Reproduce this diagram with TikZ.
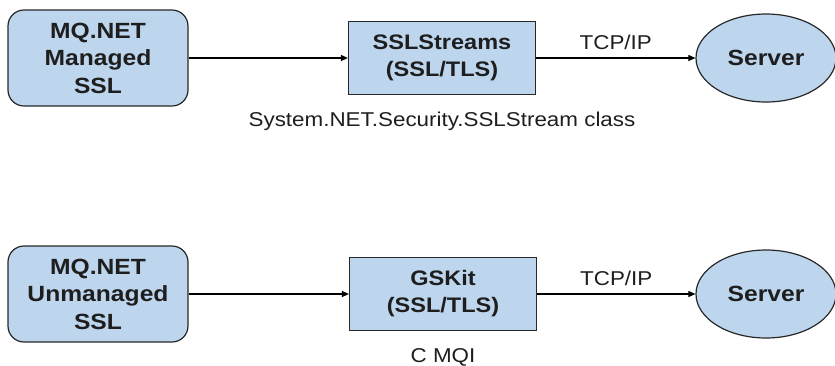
\documentclass[tikz,border=0pt]{standalone}
\usepackage{fontspec}
\setmainfont{Liberation Sans}[FakeStretch=1.12]
\usepackage{tikz}
\usetikzlibrary{arrows.meta,positioning,shapes.geometric}
\definecolor{BoxBlue}{RGB}{189, 214, 238}
\definecolor{EdgeGray}{RGB}{40, 40, 40}
\definecolor{TextGray}{RGB}{30, 30, 30}

\begin{document}
\begin{tikzpicture}[x=1pt, y=-1pt,
    client/.style={draw=EdgeGray, fill=BoxBlue, line width=1.2pt, rounded corners=16pt,
        minimum width=180pt, minimum height=96pt, inner sep=0pt, align=center,
        text=TextGray, font=\fontsize{22}{27.5}\selectfont\bfseries},
    layer/.style={draw=EdgeGray, fill=BoxBlue, line width=1.2pt,
        minimum width=187pt, minimum height=73pt, inner sep=0pt, align=center,
        text=TextGray, font=\fontsize{21}{27}\selectfont\bfseries},
    server/.style={ellipse, draw=EdgeGray, fill=BoxBlue, line width=1.2pt,
        minimum width=140pt, minimum height=88pt, inner sep=0pt,
        text=TextGray, font=\fontsize{22}{26}\selectfont\bfseries},
    link/.style={-{Triangle[length=7pt, width=6pt]}, line width=1.1pt},
    caption/.style={inner sep=0pt, text=TextGray, font=\fontsize{20}{24}\selectfont}]
    \useasboundingbox (0,0) rectangle (835,365);

    % managed path
    \node[client] (mgd) at (98,58) {MQ.NET\\Managed\\SSL};
    \node[layer] (sslstr) at (442,58) {SSLStreams\\(SSL/TLS)};
    \node[server] (srv1) at (766,58) {Server};
    \node[caption, below=17pt of sslstr] (cls) {System.NET.Security.SSLStream class};
    \draw[link] (mgd) -- (sslstr);
    \draw[link] (sslstr) -- node[caption, above=8pt] {TCP/IP} (srv1);

    % unmanaged path
    \node[client] (unmgd) at (98,294) {MQ.NET\\Unmanaged\\SSL};
    \node[layer] (gskit) at (443,294) {GSKit\\(SSL/TLS)};
    \node[server] (srv2) at (766,294) {Server};
    \node[caption, below=17pt of gskit] (cmqi) {C MQI};
    \draw[link] (unmgd) -- (gskit);
    \draw[link] (gskit) -- node[caption, above=8pt] {TCP/IP} (srv2);
\end{tikzpicture}
\end{document}
